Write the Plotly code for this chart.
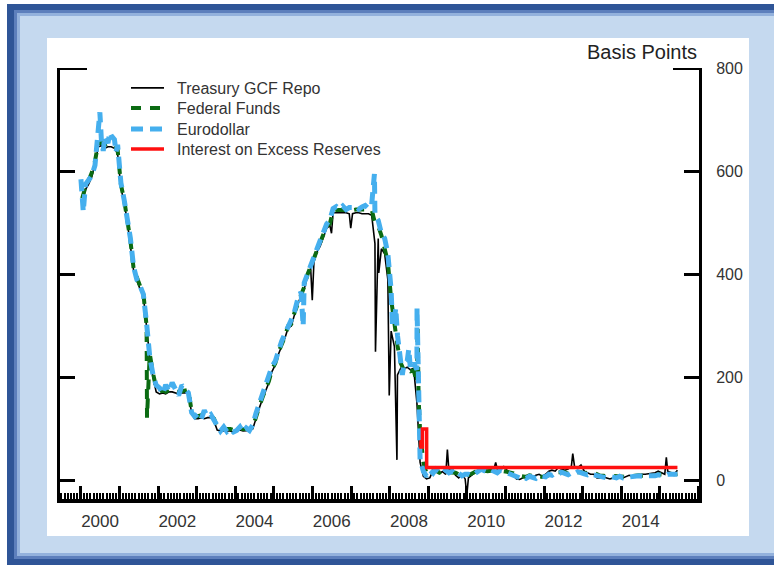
import pandas as pd
import plotly.graph_objects as go

# ---- data (basis points), monthly mid-month readings Jan 2000 - Jun 2015 ----
eurodollar_monthly = [
    545, 575, 585, 592, 612, 668, 660, 668, 655, 670, 662, 652,   # 2000
    578, 545, 515, 470, 415, 390, 378, 362, 305, 240, 205, 185,   # 2001
    180, 168, 186, 172, 190, 175, 165, 185, 176, 170, 132, 124,   # 2002
    130, 120, 136, 124, 128, 118, 104, 96, 104, 95, 100, 94,      # 2003
    97, 104, 94, 102, 97, 108, 130, 148, 166, 180, 198, 222,      # 2004
    232, 255, 270, 285, 297, 312, 328, 352, 366, 384, 402, 420,   # 2005
    436, 452, 466, 482, 498, 506, 528, 532, 527, 533, 526, 530,   # 2006
    530, 533, 527, 531, 534, 528, 536, 515, 505, 480, 470, 440,   # 2007
    370, 312, 282, 238, 226, 232, 218, 228, 215, 40, 18, 8,       # 2008
    20, 14, 22, 17, 13, 20, 15, 18, 11, 14, 9, 12,                # 2009
    12, 9, 14, 18, 22, 19, 16, 21, 17, 15, 20, 16,                # 2010
    15, 13, 11, 7, 5, 8, 4, 8, 5, 4, 9, 7,                        # 2011
    7, 12, 10, 15, 13, 16, 14, 11, 15, 13, 17, 14,                # 2012
    13, 11, 14, 11, 9, 7, 6, 5, 8, 6, 5, 8,                       # 2013
    5, 6, 7, 8, 7, 9, 8, 7, 9, 8, 9, 11,                          # 2014
    11, 9, 12, 12, 10, 12,                                        # 2015
]
fedfunds_monthly = [
    548, 570, 582, 598, 620, 655, 656, 652, 654, 653, 652, 642,
    575, 545, 510, 466, 412, 393, 378, 365, 300, 246, 208, 180,
    172, 175, 172, 176, 177, 173, 172, 174, 174, 176, 134, 124,
    125, 127, 124, 126, 126, 120, 102, 100, 100, 100, 100, 98,
    100, 101, 100, 100, 100, 103, 126, 143, 161, 176, 193, 216,
    228, 250, 263, 279, 300, 304, 326, 344, 364, 376, 400, 416,
    429, 449, 459, 479, 494, 499, 524, 525, 525, 525, 525, 524,
    525, 526, 526, 525, 525, 525, 526, 500, 494, 476, 450, 425,
    352, 300, 262, 228, 214, 216, 212, 214, 190, 95, 35, 14,
    15, 22, 18, 15, 18, 21, 16, 16, 15, 12, 12, 12,
    11, 13, 16, 20, 20, 18, 18, 19, 19, 19, 19, 18,
    17, 16, 14, 10, 9, 9, 7, 10, 8, 7, 8, 7,
    8, 10, 13, 14, 16, 16, 16, 13, 14, 16, 16, 16,
    14, 15, 14, 15, 11, 9, 9, 8, 8, 9, 8, 9,
    7, 7, 8, 9, 9, 10, 9, 9, 9, 9, 9, 12,
    12, 11, 11, 13, 12, 13,
]
gcf_monthly = [
    540, 565, 575, 590, 615, 648, 650, 645, 648, 648, 645, 635,
    568, 540, 505, 460, 408, 388, 372, 360, 290, 238, 200, 172,
    168, 170, 168, 172, 172, 170, 168, 170, 170, 172, 130, 120,
    120, 122, 120, 122, 122, 115, 98, 96, 96, 96, 96, 94,
    96, 98, 96, 97, 97, 100, 122, 140, 158, 172, 190, 212,
    225, 246, 260, 276, 296, 300, 322, 340, 360, 372, 396, 412,
    425, 445, 455, 475, 490, 495, 520, 520, 520, 520, 520, 518,
    518, 520, 520, 518, 518, 518, 515, 460, 470, 450, 440, 390,
    290, 260, 205, 218, 216, 220, 215, 218, 150, 35, 8, 3,
    5, 20, 22, 15, 17, 12, 18, 22, 10, 5, 12, 3,
    5, 10, 15, 20, 22, 22, 25, 25, 24, 22, 24, 27,
    20, 12, 10, 3, 2, 5, 8, 8, 5, 10, 12, 8,
    12, 18, 20, 18, 25, 22, 20, 22, 28, 27, 25, 30,
    18, 15, 12, 12, 5, 5, 7, 5, 3, 5, 7, 8,
    5, 8, 10, 8, 7, 10, 12, 12, 13, 14, 15, 18,
    15, 12, 18, 15, 12, 20,
]

# individual days that stand out from the monthly readings
eurodollar_day_dates = ["2000-01-03", "2000-01-25", "2000-06-30", "2000-08-01", "2000-10-02",
                        "2000-11-30", "2005-10-05", "2007-08-10", "2008-01-28", "2008-02-28",
                        "2008-04-30", "2008-06-30", "2008-09-16"]
eurodollar_day_vals = [585, 522, 715, 640, 676, 638, 300, 595, 300, 335, 205, 255, 335]
fedfunds_day_dates = ["2001-09-19", "2008-09-22", "2008-10-01"]
fedfunds_day_vals = [122, 300, 160]
gcf_day_dates = ["2005-12-30", "2006-06-30", "2006-12-29", "2007-08-20", "2007-09-20",
                 "2007-12-28", "2008-03-10", "2009-06-30", "2009-12-31", "2010-09-30",
                 "2012-09-28", "2015-03-02"]
gcf_day_vals = [350, 480, 490, 250, 403, 165, 40, 60, -28, 35, 52, 45]

# interest on excess reserves (step changes)
ioer_dates = ["2008-10-09", "2008-10-23", "2008-11-06", "2008-12-16", "2015-06-15"]
ioer_vals = [75, 65, 100, 25, 25]

series_names = ["Treasury GCF Repo", "Federal Funds", "Eurodollar", "Interest on Excess Reserves"]
year_labels = [str(y) for y in range(1999, 2017)]
shown_years = ["2000", "2002", "2004", "2006", "2008", "2010", "2012", "2014"]
y_ticks = [0, 200, 400, 600, 800]

month_dates = pd.date_range("2000-01-01", periods=len(fedfunds_monthly), freq="MS") + pd.Timedelta(days=14)


def combine(monthly, day_dates, day_vals):
    s = pd.Series(monthly, index=month_dates)
    d = pd.Series(day_vals, index=pd.to_datetime(day_dates))
    return pd.concat([s, d]).sort_index()


gcf = combine(gcf_monthly, gcf_day_dates, gcf_day_vals)
ff = combine(fedfunds_monthly, fedfunds_day_dates, fedfunds_day_vals)
ed = combine(eurodollar_monthly, eurodollar_day_dates, eurodollar_day_vals)

# ---- page geometry (pixels) ----
W, H = 774, 565
L, R, T, B = 60, 699, 68, 499


def px(x):
    return (x - L) / (R - L)


def py(y):
    return (B - y) / (B - T)


# an en space keeps a gap between each legend line sample and its label
LEGEND_GAP = "\u2002"

fig = go.Figure()
fig.add_trace(go.Scatter(x=gcf.index, y=gcf.values, mode="lines", name=LEGEND_GAP + series_names[0],
                         line=dict(color="black", width=1.6), legend="legend"))
fig.add_trace(go.Scatter(x=ff.index, y=ff.values, mode="lines", name=LEGEND_GAP + series_names[1],
                         line=dict(color="#0B6B12", width=4, dash="10px,9px"), legend="legend2"))
fig.add_trace(go.Scatter(x=ed.index, y=ed.values, mode="lines", name=LEGEND_GAP + series_names[2],
                         line=dict(color="#45AFEE", width=5, dash="12px,7px"), legend="legend3"))
fig.add_trace(go.Scatter(x=pd.to_datetime(ioer_dates), y=ioer_vals, mode="lines",
                         name=LEGEND_GAP + series_names[3],
                         line=dict(color="#FF1010", width=3.5, shape="hv"), legend="legend4"))

shapes = [
    dict(type="rect", xref="paper", yref="paper", x0=px(7), x1=px(790), y0=py(4), y1=py(580),
         fillcolor="#2F5597", line_width=0, layer="below"),
    dict(type="rect", xref="paper", yref="paper", x0=px(14), x1=px(790), y0=py(10), y1=py(559),
         fillcolor="#5D7FBC", line_width=0, layer="below"),
    dict(type="rect", xref="paper", yref="paper", x0=px(17), x1=px(790), y0=py(13), y1=py(556),
         fillcolor="#93B1DC", line_width=0, layer="below"),
    dict(type="rect", xref="paper", yref="paper", x0=px(20), x1=px(790), y0=py(16), y1=py(553),
         fillcolor="#C5D9EF", line_width=0, layer="below"),
    dict(type="rect", xref="paper", yref="paper", x0=px(47), x1=px(749), y0=py(38), y1=py(536),
         fillcolor="white", line_width=0, layer="below"),
    # longer caps at the top of both vertical axes
    dict(type="line", xref="paper", yref="y", x0=px(58), x1=px(87), y0=800, y1=800,
         line=dict(color="black", width=3)),
    dict(type="line", xref="paper", yref="y", x0=px(673), x1=px(701), y0=800, y1=800,
         line=dict(color="black", width=3)),
]

legend_rows = [88, 108, 129, 149]
legend_style = dict(x=px(126), xanchor="left", yanchor="middle", bgcolor="rgba(0,0,0,0)",
                    font=dict(size=16, color="#333"), itemwidth=33)

fig.update_layout(
    width=W, height=H,
    margin=dict(l=L, r=W - R, t=T, b=H - B, pad=0),
    paper_bgcolor="white",
    plot_bgcolor="rgba(0,0,0,0)",
    font=dict(family="Liberation Sans, Arial, sans-serif", color="#333"),
    shapes=shapes,
    showlegend=True,
    legend=dict(y=py(legend_rows[0]), **legend_style),
    legend2=dict(y=py(legend_rows[1]), **legend_style),
    legend3=dict(y=py(legend_rows[2]), **legend_style),
    legend4=dict(y=py(legend_rows[3]), **legend_style),
    annotations=[dict(text="Basis Points", xref="paper", yref="paper", x=1, y=py(52),
                      xanchor="right", yanchor="middle", showarrow=False,
                      font=dict(size=20, color="#222"))],
)

fig.update_xaxes(
    type="date", range=["1999-06-19", "2016-01-05"],
    showline=True, linewidth=4, linecolor="black", mirror=False,
    showgrid=False, zeroline=False,
    tickmode="linear", tick0="2000-01-01", dtick="M12",
    ticks="inside", ticklen=13, tickwidth=2.5, tickcolor="black",
    ticklabelmode="period", tickformat="%Y",
    labelalias={y: "" for y in year_labels if y not in shown_years},
    minor=dict(ticks="inside", ticklen=6, tickwidth=1.5, tickcolor="black",
               dtick="M1", tick0="2000-01-01", showgrid=False),
    tickfont=dict(size=17, color="#333"), ticklabelstandoff=4,
)
fig.update_yaxes(
    range=[-36, 801], side="right",
    showline=True, linewidth=3, linecolor="black", mirror="ticks",
    showgrid=False, zeroline=False,
    tickmode="array", tickvals=y_ticks,
    ticks="inside", ticklen=15, tickwidth=3, tickcolor="black",
    tickfont=dict(size=16, color="#333"), ticklabelstandoff=11,
)

fig.write_html("out.html")
